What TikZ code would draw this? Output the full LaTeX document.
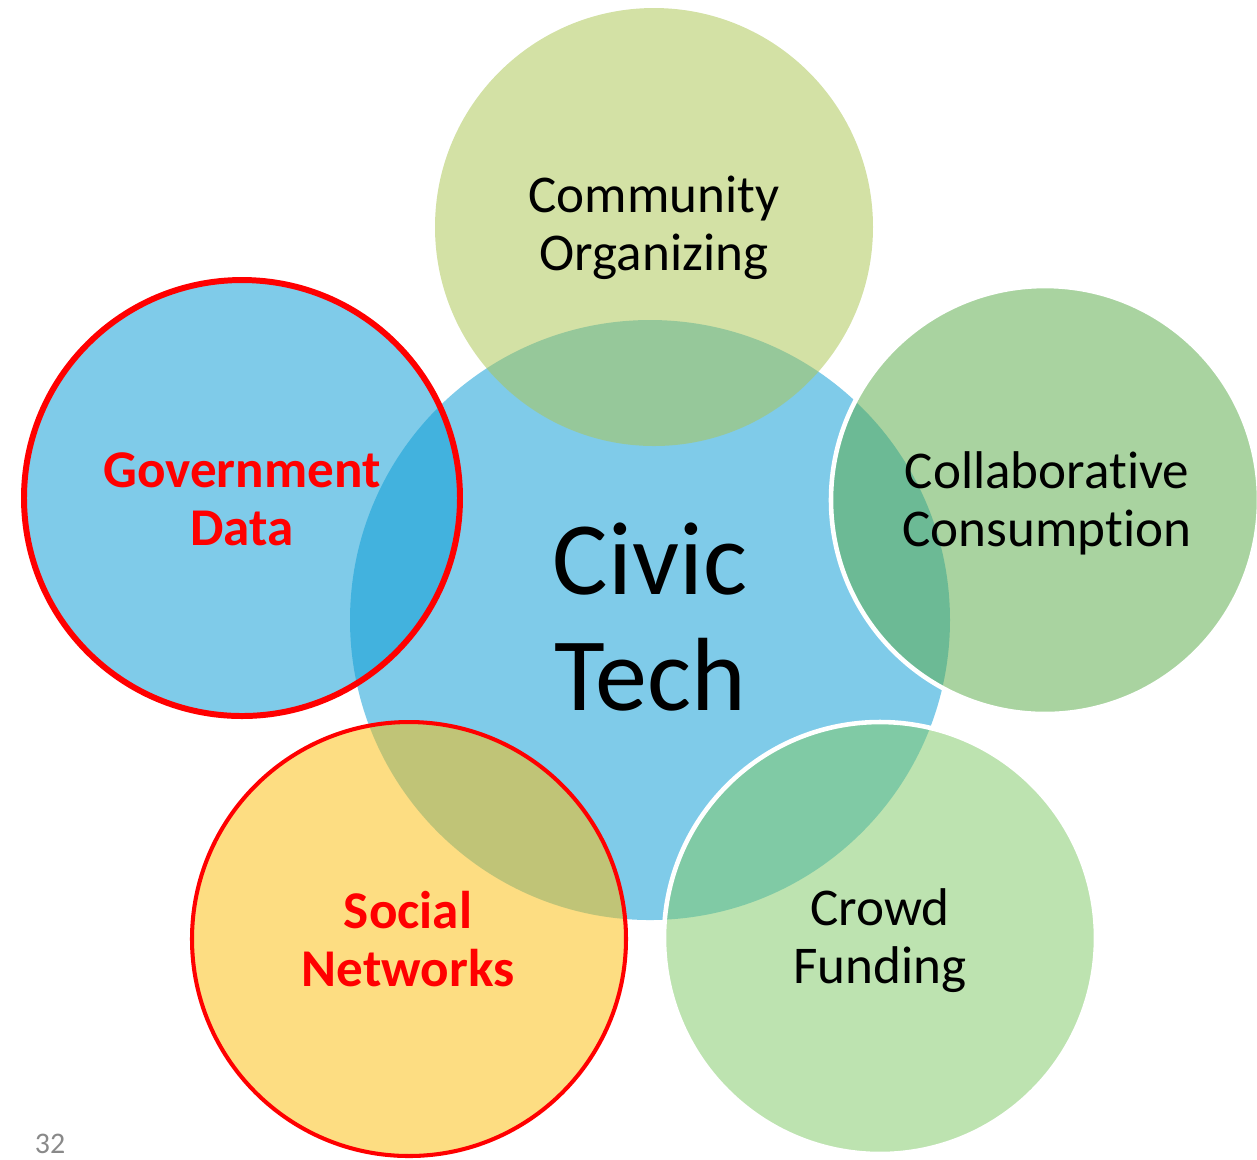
\documentclass[tikz,border=0pt]{standalone}
\usepackage{fontspec}
\setmainfont{Carlito}[Ligatures=NoCommon]
\usepackage{tikz}

\definecolor{civicblue}{HTML}{7FCBE9}
\definecolor{govblue}{HTML}{0D9DD5}
\definecolor{commgreen}{HTML}{ACC655}
\definecolor{collabgreen}{HTML}{5CAC4B}
\definecolor{crowdgreen}{HTML}{82CA6A}
\definecolor{socialyellow}{HTML}{FBBE13}
\definecolor{pagegray}{HTML}{898989}

\begin{document}
\begin{tikzpicture}[x=0.01cm,y=-0.01cm,
    petal/.style={fill opacity=0.53},
    petaltext/.style={align=center,font=\fontsize{15.1}{16.5}\selectfont},
    hot/.style={petaltext,text=red,font=\fontsize{15.1}{16.5}\selectfont\bfseries}]
    \useasboundingbox (0,0) rectangle (1257,1159);

    \fill[civicblue] (650,620) circle (300);
    \node (civic) at (650,617) [align=center,font=\fontsize{29.6}{33}\selectfont] {Civic\\Tech};

    %%%%%%%%%%%%%%%%%%%%%%%%%%%%%%%%%%%%

    \fill[petal,commgreen] (654,227) circle (219);
    \node (community) at (654,228) [petaltext] {Community\\Organizing};

    \draw[petal,fill=collabgreen,draw=white,line width=1.3pt] (1045,500) circle (214);
    \node (collab) at (1047,503) [petaltext] {Collaborative\\Consumption};

    \draw[petal,fill=crowdgreen,draw=white,line width=1.3pt] (880,938) circle (216);
    \node (crowd) at (880,941) [petaltext] {Crowd\\Funding};

    %%%%%%%%%%%%%%%%%%%%%%%%%%%%%%%%%%%%

    \draw[petal,fill=govblue,draw=red,line width=1.7pt] (242,498) circle (218);
    \node (gov) at (242,499) [hot] {Government\\Data};

    \draw[petal,fill=socialyellow,draw=red,line width=1.15pt] (409,939) circle (217);
    \node (social) at (408,939) [hot] {Social\\Networks};

    \node (page) at (50,1153) [anchor=base,text=pagegray,font=\fontsize{8.5}{10}\selectfont] {32};

\end{tikzpicture}
\end{document}
